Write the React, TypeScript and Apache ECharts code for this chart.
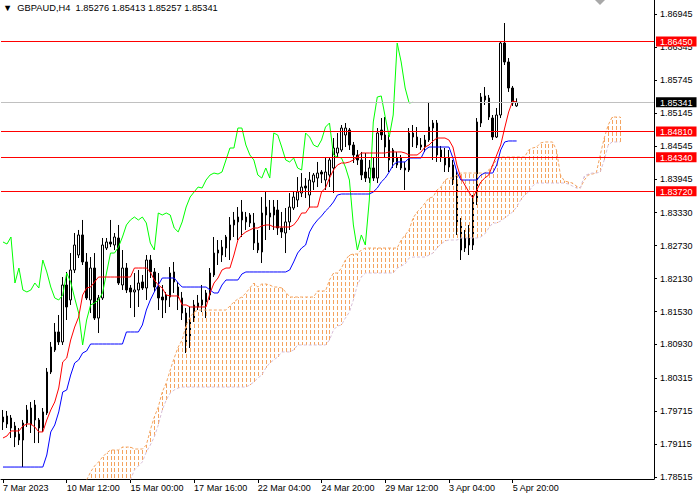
import React, { useEffect, useRef } from "react";
import * as echarts from "echarts";

const SLOT_COUNT = 164;
const CLOUD_START = 21;
const CHIKOU_SHIFT = 26;

const header = "▼  GBPAUD,H4  1.85276 1.85413 1.85257 1.85341";

const tickIndex = [0, 16, 32, 48, 64, 80, 96, 112, 128];
const tickLabels = [
  "7 Mar 2023", "10 Mar 12:00", "15 Mar 00:00", "17 Mar 16:00", "22 Mar 04:00",
  "24 Mar 20:00", "29 Mar 12:00", "3 Apr 04:00", "5 Apr 20:00",
];

const priceTicks = [
  1.78515, 1.79115, 1.79715, 1.80315, 1.8093, 1.8153, 1.8213, 1.8273, 1.8333,
  1.83945, 1.84545, 1.85145, 1.85745, 1.86345, 1.86945,
];
const redLevels = [1.8645, 1.8481, 1.8434, 1.8372];
const bidPrice = 1.85341;

const open = [
  1.79608, 1.79481, 1.7959, 1.79445, 1.79299, 1.79189, 1.79499, 1.79772, 1.79827, 1.79554,
  1.79408, 1.79681, 1.80428, 1.80829, 1.81157, 1.80975, 1.82013, 1.8174, 1.82286, 1.82559,
  1.82924, 1.82432, 1.8174, 1.82322, 1.81411, 1.81776, 1.82686, 1.82796, 1.82741, 1.82869,
  1.82013, 1.82322, 1.81958, 1.81886, 1.81922, 1.82068, 1.81958, 1.82468, 1.8225, 1.81976,
  1.81794, 1.8174, 1.81794, 1.8225, 1.81976, 1.81776, 1.81502, 1.81011, 1.81375, 1.81612,
  1.81649, 1.81704, 1.81831, 1.82195, 1.8265, 1.82559, 1.82686, 1.82832, 1.83106, 1.83161,
  1.83343, 1.83161, 1.83288, 1.83142, 1.82777, 1.82614, 1.83433, 1.83251, 1.83433, 1.83379,
  1.83051, 1.8296, 1.83161, 1.83415, 1.83561, 1.83688, 1.83816, 1.83652, 1.83889, 1.83961,
  1.84071, 1.83925, 1.84016, 1.84144, 1.84417, 1.84472, 1.84745, 1.84836, 1.84563, 1.84381,
  1.8429, 1.84071, 1.83961, 1.84144, 1.83961, 1.84836, 1.84745, 1.84654, 1.84472, 1.84199,
  1.84326, 1.84144, 1.84107, 1.84781, 1.84708, 1.84563, 1.84526, 1.84654, 1.84872, 1.84963,
  1.84472, 1.84199, 1.84326, 1.84199, 1.83925, 1.83106, 1.82686, 1.82924, 1.82741, 1.83561,
  1.84963, 1.85383, 1.85419, 1.85054, 1.84708, 1.85109, 1.8642, 1.86075, 1.85601, 1.85276,
];
const high = [
  1.79736, 1.79718, 1.79645, 1.79518, 1.79408, 1.79554, 1.79827, 1.79882, 1.79918, 1.7959,
  1.79772, 1.80501, 1.80975, 1.8132, 1.81466, 1.82158, 1.8225, 1.82595, 1.8296, 1.83015,
  1.83197, 1.82595, 1.82522, 1.82595, 1.81831, 1.82869, 1.82869, 1.83197, 1.8296, 1.83106,
  1.8265, 1.82413, 1.82013, 1.82231, 1.82286, 1.82195, 1.82559, 1.82559, 1.82322, 1.82231,
  1.82013, 1.81886, 1.8234, 1.82432, 1.82068, 1.81886, 1.81594, 1.81612, 1.8174, 1.81831,
  1.82013, 1.81922, 1.82322, 1.82887, 1.82832, 1.82832, 1.82924, 1.83251, 1.83343, 1.83433,
  1.83561, 1.83343, 1.83324, 1.83324, 1.83015, 1.83615, 1.83707, 1.83561, 1.83561, 1.83561,
  1.83343, 1.83415, 1.83688, 1.83707, 1.83979, 1.84052, 1.83961, 1.84071, 1.84052, 1.84254,
  1.84107, 1.84344, 1.84344, 1.8469, 1.84781, 1.84927, 1.84963, 1.84872, 1.84618, 1.84472,
  1.84436, 1.84417, 1.8429, 1.84326, 1.84872, 1.85054, 1.85072, 1.84745, 1.84508, 1.84436,
  1.84381, 1.84254, 1.84872, 1.84927, 1.8489, 1.8469, 1.84745, 1.85347, 1.85018, 1.85018,
  1.84545, 1.84508, 1.84472, 1.8429, 1.84107, 1.83233, 1.83015, 1.83106, 1.83652, 1.85054,
  1.8551, 1.85619, 1.85474, 1.85109, 1.85237, 1.86439, 1.86785, 1.86147, 1.85638, 1.85413,
];
const low = [
  1.79372, 1.79408, 1.79226, 1.79061, 1.79098, 1.78697, 1.79426, 1.79317, 1.79134, 1.79134,
  1.79336, 1.79645, 1.80391, 1.80793, 1.8092, 1.8092, 1.81375, 1.81649, 1.82231, 1.82504,
  1.82377, 1.8174, 1.81502, 1.81375, 1.81138, 1.8174, 1.8265, 1.82704, 1.8265, 1.82013,
  1.81922, 1.81867, 1.81594, 1.81429, 1.81612, 1.81922, 1.8174, 1.8214, 1.81886, 1.81557,
  1.81411, 1.81502, 1.81612, 1.81867, 1.81557, 1.81375, 1.80774, 1.80865, 1.81339, 1.81557,
  1.81521, 1.81411, 1.8174, 1.82158, 1.82377, 1.82432, 1.82522, 1.82468, 1.82887, 1.82832,
  1.82887, 1.83015, 1.83069, 1.8265, 1.82595, 1.82413, 1.82832, 1.83015, 1.83015, 1.82924,
  1.82869, 1.82595, 1.83015, 1.83379, 1.83433, 1.83615, 1.83597, 1.83415, 1.83743, 1.83797,
  1.8387, 1.83743, 1.83797, 1.83688, 1.84344, 1.84436, 1.84526, 1.84472, 1.84235, 1.84199,
  1.83925, 1.83889, 1.8387, 1.83907, 1.8387, 1.84654, 1.84344, 1.84071, 1.84144, 1.84144,
  1.84107, 1.83743, 1.84071, 1.84526, 1.84508, 1.84472, 1.84436, 1.84618, 1.8429, 1.84254,
  1.84254, 1.84071, 1.84071, 1.83834, 1.82924, 1.82468, 1.82614, 1.82559, 1.8265, 1.8347,
  1.8489, 1.85292, 1.85018, 1.84654, 1.8469, 1.85054, 1.8602, 1.85529, 1.85274, 1.85257,
];
const close = [
  1.79518, 1.79627, 1.79408, 1.79244, 1.79189, 1.79499, 1.79736, 1.79463, 1.79554, 1.79408,
  1.797, 1.80428, 1.80883, 1.81157, 1.80975, 1.82013, 1.81612, 1.82286, 1.82741, 1.82924,
  1.82432, 1.81776, 1.82322, 1.81411, 1.81776, 1.82741, 1.82796, 1.82759, 1.82887, 1.82049,
  1.82322, 1.81922, 1.81886, 1.81922, 1.82049, 1.81958, 1.82468, 1.8225, 1.81976, 1.81776,
  1.8174, 1.81831, 1.82231, 1.82068, 1.81776, 1.81502, 1.8092, 1.81375, 1.81649, 1.81685,
  1.8174, 1.81867, 1.82231, 1.82595, 1.82595, 1.82704, 1.82887, 1.83106, 1.83197, 1.83251,
  1.83197, 1.83251, 1.83142, 1.82777, 1.8265, 1.83324, 1.83288, 1.83324, 1.83288, 1.83051,
  1.82979, 1.83161, 1.83433, 1.83615, 1.83707, 1.83797, 1.83779, 1.83925, 1.84016, 1.84052,
  1.84034, 1.84071, 1.8429, 1.84508, 1.84508, 1.84872, 1.84872, 1.84563, 1.84381, 1.8429,
  1.84016, 1.83961, 1.84144, 1.83961, 1.84781, 1.84745, 1.84526, 1.8429, 1.84254, 1.84326,
  1.84144, 1.84107, 1.84781, 1.84708, 1.84563, 1.84526, 1.84654, 1.8489, 1.84963, 1.84381,
  1.84344, 1.84326, 1.84162, 1.83925, 1.83106, 1.8265, 1.82924, 1.82741, 1.83561, 1.84982,
  1.85437, 1.85456, 1.85072, 1.84708, 1.85109, 1.8642, 1.86075, 1.85601, 1.85328, 1.85341,
];

const tenkan = [
  1.79226, 1.79263, 1.79354, 1.79354, 1.79354, 1.79445, 1.79481, 1.79481, 1.79426, 1.79336,
  1.79336, 1.79554, 1.79736, 1.79882, 1.80136, 1.80611, 1.80683, 1.81011, 1.81247, 1.81429,
  1.81831, 1.81958, 1.81976, 1.82068, 1.82158, 1.82158, 1.82158, 1.82158, 1.82158, 1.82158,
  1.82158, 1.82158, 1.82158, 1.82322, 1.82322, 1.82322, 1.82322, 1.8225, 1.82104, 1.82013,
  1.81958, 1.81831, 1.81813, 1.81813, 1.81813, 1.81649, 1.81649, 1.81612, 1.81612, 1.81612,
  1.81612, 1.81612, 1.81867, 1.82049, 1.8214, 1.82286, 1.82322, 1.82322, 1.82559, 1.82832,
  1.82924, 1.82979, 1.83015, 1.83051, 1.83051, 1.83088, 1.83106, 1.83106, 1.83069, 1.83069,
  1.83069, 1.83069, 1.83069, 1.83106, 1.83197, 1.83324, 1.83324, 1.83433, 1.83433, 1.83433,
  1.83707, 1.83779, 1.83961, 1.84107, 1.84199, 1.84235, 1.84235, 1.84254, 1.8429, 1.84344,
  1.84417, 1.84417, 1.84417, 1.84417, 1.84417, 1.84417, 1.84417, 1.84436, 1.84436, 1.84436,
  1.84436, 1.84417, 1.84381, 1.84381, 1.84381, 1.84436, 1.84526, 1.84563, 1.84636, 1.8469,
  1.8469, 1.8469, 1.84654, 1.84526, 1.84199, 1.83961, 1.83834, 1.83707, 1.83597, 1.83743,
  1.83889, 1.83961, 1.84016, 1.84199, 1.84381, 1.84563, 1.84872, 1.85164, 1.85365, 1.85347,
];

const kijun = [
  1.78697, 1.78697, 1.78697, 1.78697, 1.78697, 1.78697, 1.78697, 1.78697, 1.78697, 1.78697,
  1.78697, 1.78916, 1.79336, 1.79463, 1.797, 1.80064, 1.801, 1.80373, 1.80592, 1.80647,
  1.80774, 1.80811, 1.80938, 1.80938, 1.80938, 1.80938, 1.80938, 1.80938, 1.80938, 1.80938,
  1.80938, 1.81157, 1.81157, 1.81157, 1.81157, 1.81284, 1.81557, 1.8174, 1.81886, 1.82013,
  1.8214, 1.8214, 1.8214, 1.8214, 1.82049, 1.81976, 1.81976, 1.81976, 1.81976, 1.81976,
  1.81976, 1.81976, 1.81922, 1.81867, 1.81867, 1.82013, 1.82104, 1.82104, 1.82104, 1.82104,
  1.82213, 1.8225, 1.8225, 1.8225, 1.8225, 1.8225, 1.8225, 1.8225, 1.8225, 1.8225,
  1.8225, 1.8225, 1.82286, 1.82432, 1.82595, 1.82686, 1.82741, 1.82979, 1.83106, 1.83197,
  1.8327, 1.83361, 1.83433, 1.83525, 1.83652, 1.8367, 1.8367, 1.8367, 1.8367, 1.8367,
  1.8367, 1.8367, 1.8367, 1.83707, 1.83779, 1.83889, 1.83961, 1.84071, 1.84199, 1.84254,
  1.84254, 1.84254, 1.84326, 1.84326, 1.84326, 1.84326, 1.84472, 1.84526, 1.84526, 1.84526,
  1.84526, 1.84526, 1.84526, 1.84326, 1.84071, 1.83925, 1.83925, 1.83925, 1.83925, 1.83925,
  1.84016, 1.84052, 1.84052, 1.84052, 1.84199, 1.84472, 1.84618, 1.84636, 1.84636, 1.84636,
];

// Senkou span A / B, starting at bar CLOUD_START (already shifted forward 26 bars)
const spanA = [
  1.78461, 1.78607, 1.78716, 1.78789, 1.78879, 1.78952, 1.79007, 1.79007, 1.79007, 1.79061,
  1.79061, 1.79061, 1.79025, 1.79025, 1.79025, 1.79098, 1.79372, 1.79608, 1.7979, 1.80064,
  1.80227, 1.80464, 1.80683, 1.80883, 1.81011, 1.81284, 1.81429, 1.81521, 1.81557, 1.81557,
  1.81557, 1.81557, 1.81557, 1.81557, 1.81557, 1.81557, 1.81631, 1.81704, 1.81758, 1.81794,
  1.81867, 1.81958, 1.82049, 1.81976, 1.82031, 1.82031, 1.82013, 1.81976, 1.81976, 1.81958,
  1.81886, 1.81794, 1.81794, 1.81794, 1.81794, 1.81794, 1.81794, 1.81794, 1.81904, 1.81904,
  1.81904, 1.82104, 1.82231, 1.82231, 1.82322, 1.82468, 1.82559, 1.82577, 1.82577, 1.8265,
  1.82686, 1.82686, 1.82686, 1.82686, 1.82686, 1.82686, 1.82686, 1.82686, 1.82686, 1.82832,
  1.82924, 1.83015, 1.83233, 1.83343, 1.83415, 1.83506, 1.83597, 1.83615, 1.83743, 1.83797,
  1.83925, 1.83961, 1.83961, 1.84016, 1.84052, 1.84052, 1.84052, 1.84052, 1.84052, 1.84052,
  1.84052, 1.84107, 1.84199, 1.8429, 1.84344, 1.84344, 1.84344, 1.84344, 1.84344, 1.84344,
  1.84344, 1.84472, 1.84508, 1.84526, 1.84599, 1.84618, 1.84618, 1.84618, 1.84472, 1.84016,
  1.83907, 1.83889, 1.8387, 1.83816, 1.83779, 1.83925, 1.84016, 1.84034, 1.84052, 1.84381,
  1.8469, 1.84927, 1.85072, 1.85072, 1.85072,
];
const spanB = [
  1.78097, 1.78097, 1.78097, 1.78097, 1.78097, 1.78097, 1.78097, 1.78097, 1.78097, 1.78097,
  1.78097, 1.78461, 1.78643, 1.78716, 1.78789, 1.78971, 1.79098, 1.79244, 1.79463, 1.79736,
  1.79918, 1.80045, 1.801, 1.80136, 1.80154, 1.80154, 1.80154, 1.80154, 1.80154, 1.80154,
  1.80154, 1.80154, 1.80154, 1.80154, 1.80154, 1.80154, 1.80154, 1.80154, 1.80154, 1.80154,
  1.80154, 1.80191, 1.80246, 1.80318, 1.80373, 1.80501, 1.80592, 1.80647, 1.80702, 1.80793,
  1.80793, 1.80793, 1.80829, 1.8092, 1.8092, 1.8092, 1.8092, 1.8092, 1.8092, 1.8092,
  1.8092, 1.81011, 1.81193, 1.81266, 1.81284, 1.81411, 1.81521, 1.8174, 1.82013, 1.82158,
  1.82231, 1.82231, 1.82231, 1.82231, 1.82231, 1.82231, 1.82231, 1.82231, 1.82322, 1.82359,
  1.82395, 1.82504, 1.82522, 1.82522, 1.82522, 1.82522, 1.82559, 1.82595, 1.82686, 1.82759,
  1.82814, 1.82832, 1.82832, 1.82832, 1.82869, 1.82869, 1.82869, 1.82869, 1.82869, 1.82887,
  1.82942, 1.83051, 1.83142, 1.83142, 1.83179, 1.83233, 1.83288, 1.83343, 1.83433, 1.83561,
  1.83652, 1.83707, 1.83816, 1.8387, 1.8387, 1.8387, 1.8387, 1.8387, 1.8387, 1.8387,
  1.8387, 1.83852, 1.83816, 1.83779, 1.83779, 1.83998, 1.84034, 1.84052, 1.84052, 1.84071,
  1.8429, 1.84563, 1.84618, 1.84618, 1.84618,
];

const FONT = "'Liberation Sans', Arial, sans-serif";
const BULL_CLOUD = "#F4A460";
const BEAR_CLOUD = "#D8BFD8";
const LEVEL_RED = "#FF0000";
const BID_GREY = "#C0C0C0";

export default function App() {
  const ref = useRef<HTMLDivElement>(null);

  useEffect(() => {
    if (!ref.current) return;
    const chart = echarts.init(ref.current, null, { renderer: "svg" });

    const categories = Array.from({ length: SLOT_COUNT }, (_, i) => String(i));
    const candles = open.map((o, i) => [o, close[i], low[i], high[i]]);
    const chikou = close.slice(CHIKOU_SHIFT);
    const spanAData = spanA.map((v, k) => [k + CLOUD_START, v]);
    const spanBData = spanB.map((v, k) => [k + CLOUD_START, v]);
    const cloudData = spanA.map((v, k) => [k + CLOUD_START, v, spanB[k]]);
    const levelData = [
      ...redLevels.map((v) => [0, v, 0]),
      [0, bidPrice, 1],
    ];
    const isTick = (i: number) => tickIndex.indexOf(i) >= 0;

    const option: any = {
      animation: false,
      backgroundColor: "#ffffff",
      title: {
        text: header,
        left: 3,
        top: 3,
        padding: 0,
        textStyle: { fontSize: 9.3, fontWeight: "normal", color: "#000", fontFamily: FONT },
      },
      graphic: [
        {
          type: "polygon",
          shape: { points: [[595, 0], [605, 0], [600, 5]] },
          style: { fill: "#a8a8a8" },
          silent: true,
        },
      ],
      grid: { left: 0, right: 46, top: 0, bottom: 21, containLabel: false },
      xAxis: {
        type: "category",
        data: categories,
        boundaryGap: true,
        axisLine: { show: true, lineStyle: { color: "#000", width: 1 } },
        axisTick: {
          show: true,
          alignWithLabel: true,
          interval: (i: number) => isTick(i),
          length: 4,
          lineStyle: { color: "#000" },
        },
        axisLabel: {
          interval: (i: number) => isTick(i),
          formatter: (_v: string, i: number) => tickLabels[tickIndex.indexOf(i)] || "",
          align: "left",
          margin: 4,
          color: "#000",
          fontSize: 9,
          fontFamily: FONT,
        },
        splitLine: { show: false },
      },
      yAxis: [
        {
          type: "value",
          position: "right",
          offset: 0,
          min: 1.78479,
          max: 1.87204,
          z: 2,
          splitLine: { show: false },
          axisLine: { show: true, onZero: false, lineStyle: { color: "#000", width: 1 } },
          axisTick: { show: true, length: 3, customValues: priceTicks, lineStyle: { color: "#000" } },
          axisLabel: {
            customValues: priceTicks,
            formatter: (v: number) => v.toFixed(5),
            margin: 6,
            color: "#000",
            fontSize: 9,
            fontFamily: FONT,
          },
        },
        {
          type: "value",
          position: "right",
          offset: 0,
          min: 1.78479,
          max: 1.87204,
          z: 6,
          splitLine: { show: false },
          axisLine: { show: false },
          axisTick: { show: false },
          axisLabel: {
            customValues: [...redLevels, bidPrice],
            margin: 2,
            formatter: (v: number) =>
              Math.abs(v - bidPrice) < 1e-7 ? `{b|${v.toFixed(5)}}` : `{r|${v.toFixed(5)}}`,
            rich: {
              r: {
                backgroundColor: LEVEL_RED,
                color: "#ffffff",
                fontSize: 9,
                fontFamily: FONT,
                lineHeight: 10,
                padding: [1, 4, 0, 4],
              },
              b: {
                backgroundColor: "#000000",
                color: "#ffffff",
                fontSize: 9,
                fontFamily: FONT,
                lineHeight: 10,
                padding: [1, 4, 0, 4],
              },
            },
          },
        },
      ],
      series: [
        {
          name: "price",
          type: "candlestick",
          data: candles,
          barWidth: 2,
          z: 2,
          itemStyle: {
            color: "#ffffff",
            color0: "#000000",
            borderColor: "#000000",
            borderColor0: "#000000",
            borderWidth: 1,
          },
        },
        {
          name: "cloud",
          type: "custom",
          data: cloudData,
          encode: { x: 0, y: [1, 2] },
          z: 3,
          silent: true,
          renderItem: (params: any, api: any) => {
            const k = params.dataIndex;
            const a = spanA[k];
            const b = spanB[k];
            const idx = k + CLOUD_START;
            const pa = api.coord([idx, a]);
            const pb = api.coord([idx, b]);
            const cs = params.coordSys;
            const top = Math.max(cs.y, Math.min(pa[1], pb[1]));
            const bot = Math.min(cs.y + cs.height, Math.max(pa[1], pb[1]));
            const children: any[] = [];
            const x = Math.round(pa[0]);
            const fill = a >= b ? BULL_CLOUD : BEAR_CLOUD;
            let y = cs.y + Math.floor((top - cs.y) / 6) * 6;
            for (; y < bot; y += 6) {
              const s = Math.max(y, top);
              const e = Math.min(y + 4, bot);
              if (e - s > 0.4) {
                children.push({
                  type: "rect",
                  shape: { x, y: Math.round(s), width: 1, height: Math.max(1, Math.round(e) - Math.round(s)) },
                  style: { fill, stroke: null },
                });
              }
            }
            return { type: "group", children };
          },
        },
        {
          name: "spanA",
          type: "line",
          data: spanAData,
          showSymbol: false,
          z: 3,
          lineStyle: { color: BULL_CLOUD, width: 1, type: [3, 2] },
        },
        {
          name: "spanB",
          type: "line",
          data: spanBData,
          showSymbol: false,
          z: 3,
          lineStyle: { color: BEAR_CLOUD, width: 1, type: [3, 2] },
        },
        {
          name: "chikou",
          type: "line",
          data: chikou,
          showSymbol: false,
          z: 4,
          lineStyle: { color: "#00FF00", width: 1 },
        },
        {
          name: "kijun",
          type: "line",
          data: kijun,
          showSymbol: false,
          z: 4,
          lineStyle: { color: "#0000FF", width: 1 },
        },
        {
          name: "tenkan",
          type: "line",
          data: tenkan,
          showSymbol: false,
          z: 5,
          lineStyle: { color: "#FF0000", width: 1 },
        },
        {
          name: "levels",
          type: "custom",
          data: levelData,
          encode: { x: 0, y: 1 },
          z: 6,
          silent: true,
          renderItem: (params: any, api: any) => {
            const item = levelData[params.dataIndex];
            const p = api.coord([0, item[1]]);
            const cs = params.coordSys;
            return {
              type: "rect",
              shape: { x: cs.x, y: Math.round(p[1] - 0.5), width: cs.width, height: 1 },
              style: { fill: item[2] === 1 ? BID_GREY : LEVEL_RED, stroke: null },
            };
          },
        },
      ],
    };

    chart.setOption(option);
    return () => chart.dispose();
  }, []);

  return (
    <div
      ref={ref}
      style={{ position: "fixed", left: 0, top: 0, width: 700, height: 500, background: "#fff" }}
    />
  );
}
